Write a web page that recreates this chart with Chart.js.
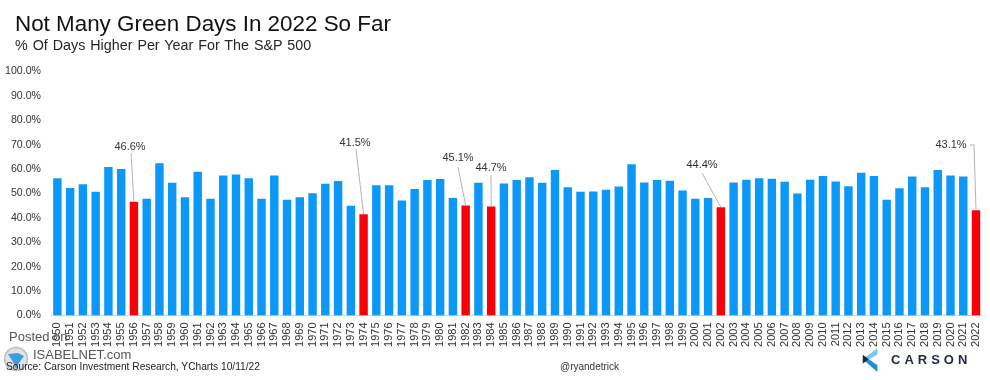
<!DOCTYPE html>
<html>
<head>
<meta charset="utf-8">
<title>Not Many Green Days In 2022 So Far</title>
<script src="https://cdn.jsdelivr.net/npm/chart.js@4/dist/chart.umd.min.js"></script>
<style>
  html, body { margin: 0; padding: 0; background: #fff; }
  #wrap { position: relative; width: 990px; height: 380px; overflow: hidden; font-family: "Liberation Sans", Arial, sans-serif; }
  #wrap canvas { position: absolute; left: 0; top: 0; }
  .txt { position: absolute; white-space: nowrap; }
  #title { left: 15px; top: 11px; font-size: 22.4px; color: #111; }
  #subtitle { left: 15px; top: 37px; font-size: 14.3px; color: #262626; word-spacing: 1px; }
  #posted { left: 9px; top: 329px; font-size: 13px; color: #555; }
  #isabel { left: 33px; top: 347px; font-size: 13px; color: #555; }
  #source { left: 6px; top: 361px; font-size: 10.2px; color: #222; }
  #handle { left: 560px; top: 361px; font-size: 10px; color: #333; }
  #carson { left: 891px; top: 352px; font-size: 13px; font-weight: bold; color: #1f2a3c; letter-spacing: 4px; }
  svg { position: absolute; }
</style>
</head>
<body>
<div id="wrap">
  <canvas id="chart" width="990" height="380"></canvas>
  <div class="txt" id="title">Not Many Green Days In 2022 So Far</div>
  <div class="txt" id="subtitle">% Of Days Higher Per Year For The S&amp;P 500</div>
  <div class="txt" id="posted">Posted on</div>
  <svg style="left:3px;top:346px" width="26" height="26" viewBox="0 0 26 26">
    <circle cx="13" cy="13" r="11.5" fill="#dfe3e8" stroke="#b9bec5" stroke-width="1.5"/>
    <path d="M5 8 L15 7 L21 10 L16 17 L13 23 L10 16 Z" fill="#3f9fdc"/>
  </svg>
  <div class="txt" id="isabel">ISABELNET.com</div>
  <div class="txt" id="source">Source: Carson Investment Research, YCharts 10/11/22</div>
  <div class="txt" id="handle">@ryandetrick</div>
  <svg style="left:861px;top:346px" width="19" height="28" viewBox="0 0 22 30">
    <polygon points="2,14 19,1 19,9 9,14" fill="#7cc4f2"/>
    <polygon points="2,14 9,14 19,21 19,29" fill="#1b8fe6"/>
    <polygon points="2,9 9,14 2,19" fill="#14283f"/>
  </svg>
  <div class="txt" id="carson">CARSON</div>
</div>
<script>
// valores
const anos = ['1950','1951','1952','1953','1954','1955','1956','1957','1958','1959','1960','1961','1962','1963','1964','1965','1966','1967','1968','1969','1970','1971','1972','1973','1974','1975','1976','1977','1978','1979','1980','1981','1982','1983','1984','1985','1986','1987','1988','1989','1990','1991','1992','1993','1994','1995','1996','1997','1998','1999','2000','2001','2002','2003','2004','2005','2006','2007','2008','2009','2010','2011','2012','2013','2014','2015','2016','2017','2018','2019','2020','2021','2022'];
const pctAlta = [56.3,52.3,53.8,50.7,60.9,60.0,46.6,47.8,62.4,54.4,48.5,58.9,47.8,57.4,57.8,56.3,47.8,57.4,47.4,48.5,50.1,54.0,55.1,45.0,41.5,53.4,53.4,47.1,51.8,55.5,55.9,48.2,45.1,54.4,44.7,54.1,55.5,56.7,54.4,59.6,52.6,50.7,50.8,51.5,52.9,62.0,54.5,55.5,55.2,51.2,47.8,48.2,44.4,54.5,55.6,56.3,56.0,54.8,50.0,55.6,57.2,54.9,53.0,58.5,57.2,47.4,52.2,57.0,52.6,59.6,57.4,57.0,43.1];
const anosVermelhos = ['1956','1974','1982','1984','2002','2022'];
const yTicks = [0,10,20,30,40,50,60,70,80,90,100];

// onde cada rotulo fica (pixels da pagina)
const rotulos = {
  '1956': { x: 130, y: 147, lx: 131, ly: 153 },
  '1974': { x: 355, y: 143, lx: 356, ly: 149 },
  '1982': { x: 458, y: 158, lx: 458, ly: 167 },
  '1984': { x: 491, y: 168, lx: 491, ly: 175 },
  '2002': { x: 702, y: 165, lx: 702, ly: 173 },
  '2022': { x: 951, y: 145, lx: 970, ly: 145, cotovelo: 974 }
};

// desenha as chamadas com a linha ate o topo da barra
const chamadas = {
  id: 'chamadas',
  afterDatasetsDraw(chart) {
    const ctx = chart.ctx, sx = chart.scales.x, sy = chart.scales.y;
    ctx.save();
    ctx.font = '11px "Liberation Sans", Arial, sans-serif';
    ctx.textAlign = 'center';
    ctx.textBaseline = 'middle';
    anosVermelhos.forEach(ano => {
      const r = rotulos[ano];
      const v = pctAlta[anos.indexOf(ano)];
      const bx = sx.getPixelForValue(anos.indexOf(ano));
      const by = sy.getPixelForValue(v);
      ctx.strokeStyle = '#b5b5b5';
      ctx.lineWidth = 1;
      ctx.beginPath();
      ctx.moveTo(r.lx, r.ly);
      if (r.cotovelo) ctx.lineTo(r.cotovelo, r.ly);
      ctx.lineTo(bx, by);
      ctx.stroke();
      ctx.fillStyle = '#333';
      ctx.fillText(v.toFixed(1) + '%', r.x, r.y);
    });
    ctx.restore();
  }
};

new Chart(document.getElementById('chart').getContext('2d'), {
  type: 'bar',
  data: {
    labels: anos,
    datasets: [{
      data: pctAlta,
      backgroundColor: anos.map(a => anosVermelhos.includes(a) ? '#f70008' : '#0b98f8'),
      borderWidth: 0,
      barPercentage: 0.66,
      categoryPercentage: 1
    }]
  },
  options: {
    responsive: false,
    animation: false,
    layout: { padding: { top: 71.5, right: 7.6, left: 0, bottom: 0 } },
    plugins: { legend: { display: false }, tooltip: { enabled: false }, title: { display: false } },
    scales: {
      x: {
        grid: { display: false, drawTicks: false },
        border: { color: '#d0d0d0' },
        afterFit: s => { s.height = 64.5; s.paddingLeft = 0; s.paddingRight = 0; },
        ticks: {
          autoSkip: false, maxRotation: 90, minRotation: 90, padding: 7,
          color: '#333',
          font: { family: '"Liberation Sans", Arial, sans-serif', size: 11 }
        }
      },
      y: {
        min: 0, max: 100,
        grid: { display: false, drawTicks: false },
        border: { display: false },
        afterFit: s => { s.width = 51; s.paddingTop = 0; s.paddingBottom = 0; },
        afterBuildTicks: s => { s.ticks = yTicks.map(v => ({ value: v })); },
        ticks: {
          padding: 10,
          color: '#333',
          font: { family: '"Liberation Sans", Arial, sans-serif', size: 10.6 },
          callback: v => v.toFixed(1) + '%'
        }
      }
    }
  },
  plugins: [chamadas]
});
</script>
</body>
</html>
